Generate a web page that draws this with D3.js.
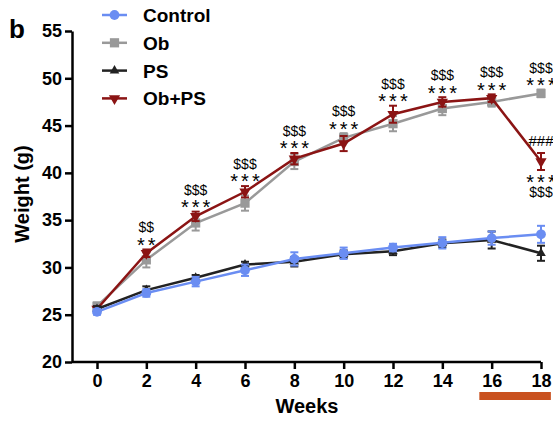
<!DOCTYPE html>
<html>
<head>
<meta charset="utf-8">
<script src="https://cdn.jsdelivr.net/npm/d3@7"></script>
<style>
  body { margin: 0; background: #fff; }
  text { font-family: "Liberation Sans", Arial, sans-serif; font-weight: bold; }
  .sig { font-weight: normal; fill: #000; }
</style>
</head>
<body>
<svg id="chart" width="553" height="422"></svg>
<script>
// weeks on the x axis
var weeks = [0, 2, 4, 6, 8, 10, 12, 14, 16, 18];
var yTicks = [20, 25, 30, 35, 40, 45, 50, 55];

// mean body weight (g) and SEM
var control    = [25.3, 27.3, 28.5, 29.7, 30.9, 31.5, 32.1, 32.6, 33.1, 33.5];
var controlErr = [0.3, 0.4, 0.5, 0.6, 0.7, 0.6, 0.4, 0.6, 0.7, 0.9];
var ob         = [25.9, 30.8, 34.7, 36.8, 41.2, 43.7, 45.2, 46.8, 47.5, 48.4];
var obErr      = [0.4, 0.8, 0.8, 0.8, 0.8, 0.5, 0.8, 0.7, 0.5, 0.4];
var ps         = [25.6, 27.6, 28.9, 30.3, 30.6, 31.4, 31.7, 32.55, 32.9, 31.5];
var psErr      = [0.3, 0.4, 0.3, 0.3, 0.5, 0.4, 0.4, 0.4, 0.9, 0.8];
var obps       = [25.6, 31.5, 35.4, 38.0, 41.5, 43.1, 46.2, 47.5, 47.9, 41.2];
var obpsErr    = [0.3, 0.4, 0.5, 0.6, 0.6, 0.8, 0.9, 0.5, 0.4, 0.9];

// significance marks above each week (top line, second line)
var sigTop = ["", "$$", "$$$", "$$$", "$$$", "$$$", "$$$", "$$$", "$$$", "$$$"];
var sigBot = ["", "**", "***", "***", "***", "***", "***", "***", "***", "***"];
// marks around the last Ob+PS point
var lastAbove = "###";
var lastBelow = ["***", "$$$"];

var series = [
  { name: "Control", values: control, err: controlErr, color: "#6a8df2", marker: "circle" },
  { name: "Ob", values: ob, err: obErr, color: "#999999", marker: "square" },
  { name: "PS", values: ps, err: psErr, color: "#222222", marker: "tri" },
  { name: "Ob+PS", values: obps, err: obpsErr, color: "#8b1414", marker: "triDown" }
];

var svg = d3.select("#chart");

var x = d3.scaleLinear().domain([0, 18]).range([97, 541]);
var y = d3.scaleLinear().domain([20, 55]).range([362, 31]);

// axes
var xAxis = svg.append("g")
  .attr("transform", "translate(0,362)")
  .call(d3.axisBottom(x).tickValues(weeks).tickSize(7).tickPadding(5).tickSizeOuter(0));
xAxis.select(".domain").attr("d", "M72,0H541");

var yAxis = svg.append("g")
  .attr("transform", "translate(72,0)")
  .call(d3.axisLeft(y).tickValues(yTicks).tickSize(7).tickPadding(3).tickSizeOuter(0));

svg.selectAll(".domain, .tick line").attr("stroke", "#000").attr("stroke-width", 2.5);
svg.selectAll(".tick text").attr("fill", "#000").style("font-size", "18px");

// axis titles
svg.append("text").attr("x", 307).attr("y", 413).attr("text-anchor", "middle")
  .style("font-size", "20px").text("Weeks");
svg.append("text").attr("transform", "translate(29,194) rotate(-90)").attr("text-anchor", "middle")
  .style("font-size", "20px").text("Weight (g)");
svg.append("text").attr("x", 9).attr("y", 38).style("font-size", "26px").text("b");

// treatment bar under weeks 16-18
svg.append("rect").attr("x", x(15.5)).attr("y", 392).attr("width", x(18.4) - x(15.5)).attr("height", 8)
  .attr("fill", "#c9511f");

var markerPath = {
  circle: d3.symbol().type(d3.symbolCircle).size(75),
  square: d3.symbol().type(d3.symbolSquare).size(85),
  tri: d3.symbol().type(d3.symbolTriangle).size(40),
  triDown: d3.symbol().type(d3.symbolTriangle).size(55)
};

var line = d3.line().x(function(d, i) { return x(weeks[i]); }).y(function(d) { return y(d); });

// draw in order so Control ends on top
var drawOrder = [series[1], series[3], series[2], series[0]];
drawOrder.forEach(function(s) {
  var g = svg.append("g");
  g.append("path").datum(s.values).attr("d", line)
    .attr("fill", "none").attr("stroke", s.color).attr("stroke-width", 2.5);
  s.values.forEach(function(v, i) {
    var cx = x(weeks[i]), lo = y(v - s.err[i]), hi = y(v + s.err[i]);
    g.append("line").attr("x1", cx).attr("x2", cx).attr("y1", lo).attr("y2", hi)
      .attr("stroke", s.color).attr("stroke-width", 2);
    g.append("line").attr("x1", cx - 4).attr("x2", cx + 4).attr("y1", lo).attr("y2", lo)
      .attr("stroke", s.color).attr("stroke-width", 2);
    g.append("line").attr("x1", cx - 4).attr("x2", cx + 4).attr("y1", hi).attr("y2", hi)
      .attr("stroke", s.color).attr("stroke-width", 2);
    var rot = s.marker == "triDown" ? " rotate(180)" : "";
    g.append("path").attr("d", markerPath[s.marker]())
      .attr("transform", "translate(" + cx + "," + y(v) + ")" + rot)
      .attr("fill", s.color);
  });
});

// significance marks; helpers place a glyph row by its visual centre
function stars(cx, cy, str) {
  svg.append("text").attr("class", "sig").attr("x", cx + 1.5).attr("y", cy + 11.4)
    .attr("text-anchor", "middle").style("font-size", "20px").style("letter-spacing", "3px")
    .text(str);
}
function dollars(cx, cy, str) {
  svg.append("text").attr("class", "sig").attr("x", cx).attr("y", cy + 5)
    .attr("text-anchor", "middle").style("font-size", "14px").text(str);
}

weeks.forEach(function(w, i) {
  if (!sigTop[i]) return;
  var top = Math.max(ob[i] + obErr[i], obps[i] + obpsErr[i]);
  if (i == weeks.length - 1) top = ob[i] + obErr[i];
  var yc = y(top) - 9;
  stars(x(w), yc, sigBot[i]);
  dollars(x(w), yc - 13, sigTop[i]);
});

var li = weeks.length - 1;
var lx = x(weeks[li]);
svg.append("text").attr("class", "sig").attr("x", lx).attr("y", y(obps[li] + obpsErr[li]) - 7)
  .attr("text-anchor", "middle").style("font-size", "15px").text(lastAbove);
stars(lx, y(obps[li] - obpsErr[li]) + 8, lastBelow[0]);
dollars(lx, y(obps[li] - obpsErr[li]) + 22, lastBelow[1]);

// legend
var legend = svg.append("g");
series.forEach(function(s, i) {
  var ly = 15 + i * 27.8;
  legend.append("line").attr("x1", 102).attr("x2", 127).attr("y1", ly).attr("y2", ly)
    .attr("stroke", s.color).attr("stroke-width", 2.5);
  var rot = s.marker == "triDown" ? " rotate(180)" : "";
  legend.append("path").attr("d", markerPath[s.marker]())
    .attr("transform", "translate(114.5," + ly + ")" + rot).attr("fill", s.color);
  legend.append("text").attr("x", 143).attr("y", ly + 7).style("font-size", "19px").text(s.name);
});
</script>
</body>
</html>
